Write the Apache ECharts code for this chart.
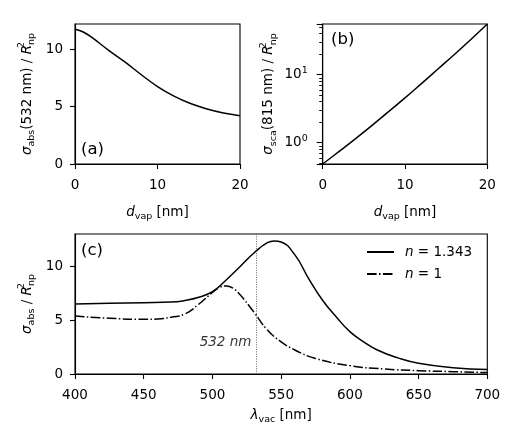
<!DOCTYPE html>
<html><head><meta charset="utf-8">
<script src="https://cdn.jsdelivr.net/npm/echarts@6/dist/echarts.min.js"></script>
<style>html,body{margin:0;padding:0;background:#fff}#c{width:515px;height:441px}</style>
</head><body><div id="c"></div>
<script>
// ---- data ----
const dVapA = [0, 1, 2, 4, 6, 8, 10, 12, 14, 16, 18, 20];
const sigmaAbs532 = [11.74, 11.5, 11.05, 9.95, 8.92, 7.8, 6.75, 5.92, 5.27, 4.8, 4.45, 4.21];

const dVapB = [0, 2, 4, 6, 8, 10, 12, 14, 16, 18, 20];
const sigmaSca815 = [0.486, 0.745, 1.15, 1.8, 2.86, 4.55, 7.4, 12.1, 19.8, 32.9, 55.6];

const lambdaN1343 = [400, 425, 450, 470, 480, 490, 500, 510, 520, 530, 540, 545, 550, 560, 570, 580, 590, 600, 610, 620, 635, 650, 675, 700];
const sigmaN1343 = [6.52, 6.6, 6.65, 6.7, 6.85, 7.15, 7.67, 8.76, 10.0, 11.25, 12.24, 12.4, 12.3, 11.1, 8.9, 6.9, 5.34, 3.95, 3.0, 2.24, 1.5, 1.0, 0.59, 0.43];

const lambdaN1 = [400, 425, 450, 460, 470, 480, 490, 500, 505, 510, 515, 520, 530, 540, 550, 560, 575, 600, 625, 650, 675, 700];
const sigmaN1 = [5.4, 5.2, 5.1, 5.12, 5.3, 5.6, 6.5, 7.6, 8.05, 8.2, 8.0, 7.4, 5.8, 4.1, 3.0, 2.24, 1.45, 0.78, 0.47, 0.31, 0.22, 0.13];

const seriesNames = ['n = 1.343', 'n = 1'];
const markerLambda = 532;
const markerLabelY = 2.92;
const markerLabel = '532 nm';
const panelLabels = ['(a)', '(b)', '(c)'];

const ticksAx = [0, 10, 20], ticksAy = [0, 5, 10];
const ticksBx = [0, 10, 20], ticksBy = [1, 10];
const ticksCx = [400, 450, 500, 550, 600, 650, 700], ticksCy = [0, 5, 10];
const limA = {x: [0, 20], y: [0, 12.2]};
const limB = {x: [0, 20], y: [0.486, 55.6]};
const limC = {x: [400, 700], y: [0, 13.05]};

// ---- styling ----
const F = 'DejaVu Sans';
const FS = 13.5;
const rich = {
  n: {fontSize: FS, fontFamily: F, color: '#000', lineHeight: 20},
  i: {fontSize: FS, fontFamily: F, fontStyle: 'italic', color: '#000', lineHeight: 20},
  sub: {fontSize: 9.5, fontFamily: F, color: '#000', lineHeight: 10, verticalAlign: 'bottom'},
  sup: {fontSize: 9.5, fontFamily: F, color: '#000', lineHeight: 10, verticalAlign: 'top', width: 0}
};
const zip = (a, b) => a.map((v, k) => [v, b[k]]);

function xAxis(grid, lim, ticks, name, gap) {
  return {
    type: 'value', gridIndex: grid, min: lim[0], max: lim[1],
    name: name, nameLocation: 'middle', nameGap: gap, nameMoveOverlap: false,
    nameTextStyle: {rich: rich},
    axisLine: {show: true, onZero: false, lineStyle: {color: '#000', width: 1.1}},
    axisTick: {show: true, length: 5, customValues: ticks, lineStyle: {color: '#000', width: 1.1}},
    axisLabel: {customValues: ticks, color: '#000', fontSize: FS, fontFamily: F, margin: 14},
    splitLine: {show: false}
  };
}
function yAxis(grid, lim, ticks, name, gap, type) {
  return {
    type: type || 'value', gridIndex: grid, min: lim[0], max: lim[1], position: 'left',
    name: name, nameLocation: 'middle', nameGap: gap, nameRotate: 90, nameMoveOverlap: false,
    nameTextStyle: {rich: rich},
    axisLine: {show: true, onZero: false, lineStyle: {color: '#000', width: 1.1}},
    axisTick: {show: true, length: 5, customValues: ticks, lineStyle: {color: '#000', width: 1.1}},
    axisLabel: {customValues: ticks, color: '#000', fontSize: FS, fontFamily: F, margin: 12},
    splitLine: {show: false}
  };
}
const gridBase = {show: true, borderColor: '#000', borderWidth: 1.1, containLabel: false, outerBoundsMode: 'none'};

const yB = yAxis(1, limB.y, ticksBy,
  '{i|σ}{sub|sca}{n|(815 nm) / }{i|R}{sup|2}{sub|np}', 44, 'log');
yB.logBase = 10;
yB.axisLabel.margin = 15;
yB.axisTick = {show: true, length: 6, lineStyle: {color: '#000', width: 1.1}};
yB.minorTick = {show: true, splitNumber: 9, length: 3.5, lineStyle: {color: '#000', width: 0.9}};
yB.minorSplitLine = {show: false};
yB.axisLabel.formatter = v => '{b|10}{e|' + Math.round(Math.log10(v)) + '}';
yB.axisLabel.rich = {
  b: {fontSize: FS, fontFamily: F, color: '#000', lineHeight: 18},
  e: {fontSize: 9.5, fontFamily: F, color: '#000', lineHeight: 10, verticalAlign: 'top'}
};

const lineStyle = {color: '#000', width: 1.5};

const option = {
  animation: false,
  backgroundColor: '#fff',
  textStyle: {fontFamily: F},
  grid: [
    Object.assign({left: 75, top: 24, width: 165, height: 140}, gridBase),
    Object.assign({left: 322.7, top: 24, width: 164.6, height: 140}, gridBase),
    Object.assign({left: 75, top: 234, width: 412.3, height: 140}, gridBase)
  ],
  xAxis: [
    xAxis(0, limA.x, ticksAx, '{i|d}{sub|vap}{n| [nm]}', 38),
    xAxis(1, limB.x, ticksBx, '{i|d}{sub|vap}{n| [nm]}', 38),
    xAxis(2, limC.x, ticksCx, '{i|λ}{sub|vac}{n| [nm]}', 31)
  ],
  yAxis: [
    yAxis(0, limA.y, ticksAy, '{i|σ}{sub|abs}{n|(532 nm) / }{i|R}{sup|2}{sub|np}', 38),
    yB,
    yAxis(2, limC.y, ticksCy, '{i|σ}{sub|abs}{n| / }{i|R}{sup|2}{sub|np}', 38)
  ],
  legend: {
    left: 361, top: 240, orient: 'vertical', itemWidth: 27, itemHeight: 14, itemGap: 8,
    data: seriesNames,
    itemStyle: {opacity: 0},
    formatter: name => '{i|n}{n|' + name.slice(1) + '}',
    textStyle: {color: '#000', rich: {
      n: {fontSize: FS, fontFamily: F, color: '#000'},
      i: {fontSize: FS, fontFamily: F, fontStyle: 'italic', color: '#000', padding: [0, 0, 0, 6]}
    }}
  },
  graphic: [
    {type: 'text', left: 81, top: 141, style: {text: panelLabels[0], font: '16.5px "DejaVu Sans"', fill: '#000'}},
    {type: 'text', left: 331, top: 31, style: {text: panelLabels[1], font: '16.5px "DejaVu Sans"', fill: '#000'}},
    {type: 'text', left: 81, top: 242, style: {text: panelLabels[2], font: '16.5px "DejaVu Sans"', fill: '#000'}}
  ],
  series: [
    {type: 'line', xAxisIndex: 0, yAxisIndex: 0, data: zip(dVapA, sigmaAbs532), symbol: 'none', smooth: 0.4, lineStyle: lineStyle},
    {type: 'line', xAxisIndex: 1, yAxisIndex: 1, data: zip(dVapB, sigmaSca815), symbol: 'none', smooth: 0.4, lineStyle: lineStyle},
    {name: seriesNames[0], type: 'line', xAxisIndex: 2, yAxisIndex: 2, data: zip(lambdaN1343, sigmaN1343), symbol: 'none', smooth: 0.5, lineStyle: lineStyle, itemStyle: {color: '#000'},
      markLine: {silent: true, symbol: 'none', label: {show: false},
        lineStyle: {color: '#444', width: 0.8, type: [1, 1.4]},
        data: [{xAxis: markerLambda}]}},
    {name: seriesNames[1], type: 'line', xAxisIndex: 2, yAxisIndex: 2, data: zip(lambdaN1, sigmaN1), symbol: 'none', smooth: 0.5,
      lineStyle: {color: '#000', width: 1.5, type: [9.6, 2.4, 1.5, 2.4]}, itemStyle: {color: '#000'}},
    {type: 'scatter', xAxisIndex: 2, yAxisIndex: 2, data: [[markerLambda, markerLabelY]], symbolSize: 0, silent: true,
      label: {show: true, position: 'left', distance: 5, formatter: markerLabel, color: '#000', fontSize: FS, fontFamily: F, fontStyle: 'italic'}}
  ]
};
const chart = echarts.init(document.getElementById('c'), null, {renderer: 'canvas'});
chart.setOption(option);
</script></body></html>
